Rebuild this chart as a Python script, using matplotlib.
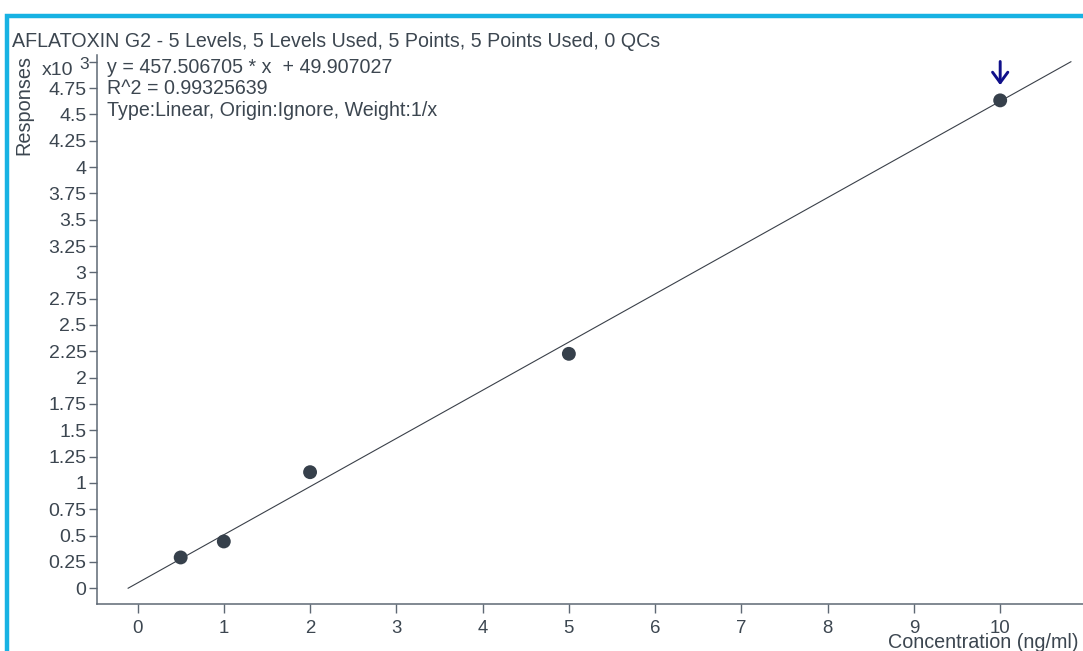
import matplotlib
matplotlib.use("Agg")
import matplotlib.pyplot as plt
from matplotlib.patches import Rectangle
import numpy as np

plt.rcParams['font.family'] = ['Liberation Sans', 'DejaVu Sans']

# ---- data ----
concentration = [0.5, 1, 2, 5, 10]
responses = [292, 444, 1102, 2226, 4633]
slope = 457.506705
intercept = 49.907027
x_ticks = [0, 1, 2, 3, 4, 5, 6, 7, 8, 9, 10]
y_ticks = [0, 250, 500, 750, 1000, 1250, 1500, 1750, 2000, 2250, 2500, 2750,
           3000, 3250, 3500, 3750, 4000, 4250, 4500, 4750, 5000]
title = "AFLATOXIN G2 - 5 Levels, 5 Levels Used, 5 Points, 5 Points Used, 0 QCs"
eq_lines = ["y = 457.506705 * x  + 49.907027",
            "R^2 = 0.99325639",
            "Type:Linear, Origin:Ignore, Weight:1/x"]

TXT = '#3c4650'
SP = '#5e6874'
FS = 14.1

W, H = 1083, 651
fig = plt.figure(figsize=(W / 100, H / 100), dpi=100)
fig.patch.set_facecolor('white')

# blue frame (left & top visible)
fig.patches.append(Rectangle((7 / W, -0.1), 1.2, (H - 16) / H + 0.1,
                             transform=fig.transFigure, fill=False,
                             edgecolor='#17b2e3', linewidth=3.2))

ax = fig.add_axes([97 / W, (H - 604) / H, (W - 97) / W, (604 - 55) / H])
ax.set_xlim(-0.47, 10.96)
ax.set_ylim(-150, 5064)

# regression line over y = 0 .. 5000
x0 = -intercept / slope
x1 = (5000 - intercept) / slope
xl = np.array([x0, x1])
ax.plot(xl, slope * xl + intercept, color='#3a4049', linewidth=0.8, zorder=2)

ax.scatter(concentration, responses, s=100, color='#36404b', zorder=3,
           edgecolors='none')

# arrow over the last point
ax.annotate('', xy=(concentration[-1], responses[-1]), xytext=(0, 28),
            textcoords='offset points',
            arrowprops=dict(arrowstyle='->,head_length=0.75,head_width=0.55',
                            color='#10108a', lw=2.1, shrinkA=0, shrinkB=11))

for s in ['top', 'right']:
    ax.spines[s].set_visible(False)
for s in ['left', 'bottom']:
    ax.spines[s].set_color(SP)
    ax.spines[s].set_linewidth(1.1)

ax.set_xticks(x_ticks)
ax.set_xticklabels([str(v) for v in x_ticks])
ax.set_yticks(y_ticks)
ylabels = ['%g' % (v / 1000) for v in y_ticks]
ylabels[-1] = ''
ax.set_yticklabels(ylabels)
ax.tick_params(axis='x', colors=SP, labelcolor=TXT, labelsize=13.4,
               length=6.5, width=1.0, pad=5.2)
ax.tick_params(axis='y', colors=SP, labelcolor=TXT, labelsize=14,
               length=6, width=1.0, pad=1.5)

# x10^3 label
fig.text(42 / W, (H - 75) / H, 'x10', fontsize=14, color=TXT,
         ha='left', va='baseline')
fig.text(79 / W, (H - 69) / H, '3', fontsize=12.5, color=TXT,
         ha='left', va='baseline')

# title & equation
fig.text(12 / W, (H - 47) / H, title, fontsize=FS, color=TXT,
         ha='left', va='baseline')
for i, line in enumerate(eq_lines):
    fig.text(107 / W, (H - (73 + 21.3 * i)) / H, line, fontsize=FS,
             color=TXT, ha='left', va='baseline')

fig.text(24 / W, (H - 105) / H, 'Responses', fontsize=14.3, color=TXT,
         rotation=90, ha='center', va='center')
fig.text(1078 / W, (H - 648.5) / H, 'Concentration (ng/ml)', fontsize=14.2,
         color=TXT, ha='right', va='baseline')

fig.savefig('out.png', dpi=100, facecolor='white')
